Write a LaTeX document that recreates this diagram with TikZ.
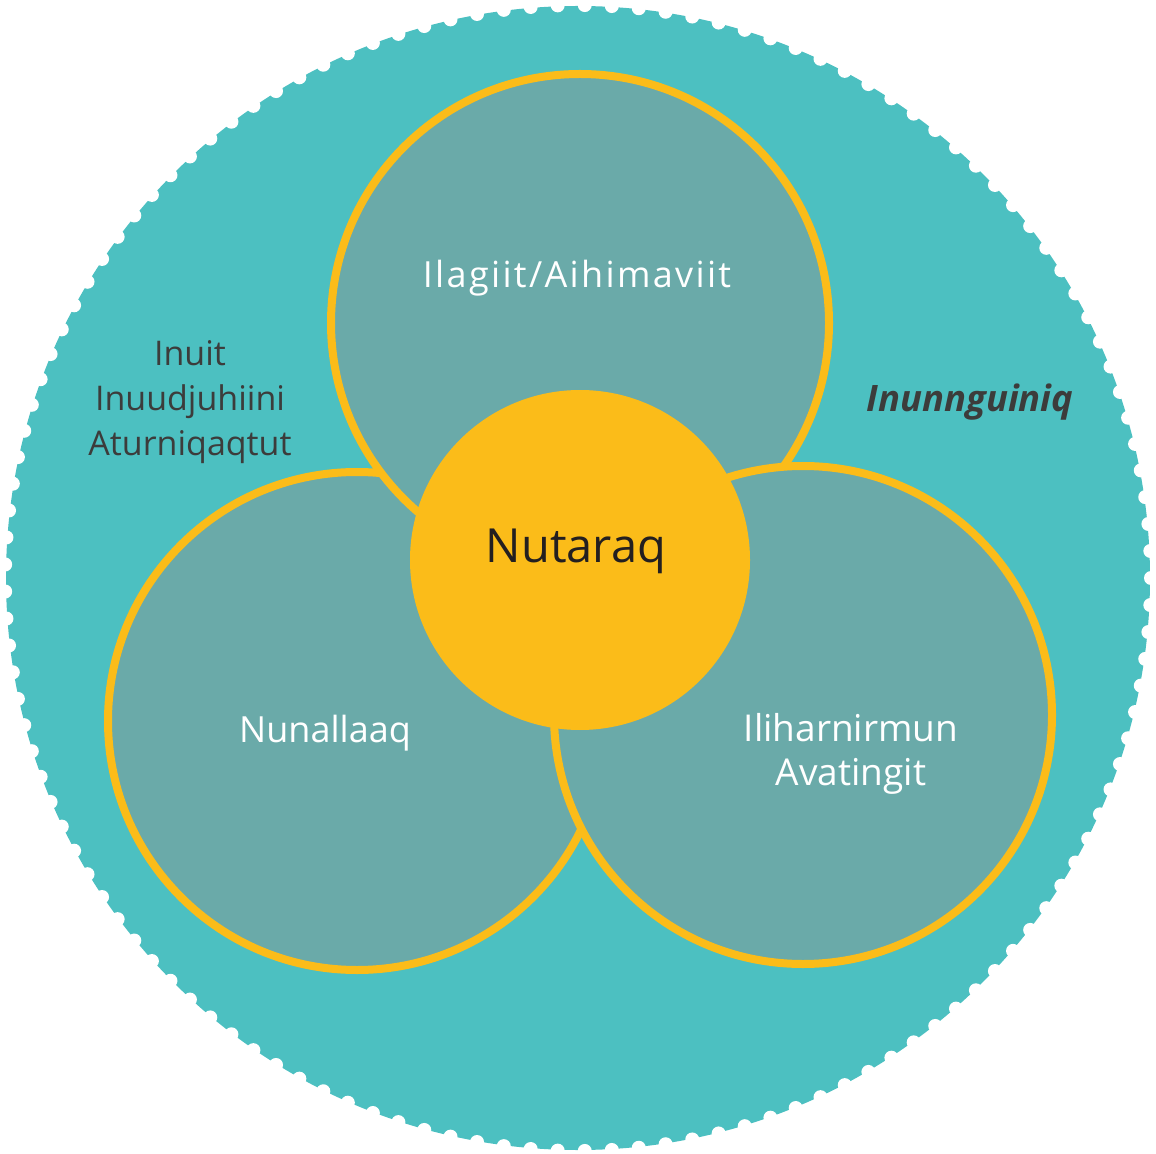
\documentclass[tikz,border=0pt]{standalone}
\usepackage{fontspec}
\setmainfont{Open Sans}
\definecolor{lagoon}{HTML}{4CC0C1}
\definecolor{sage}{HTML}{6AAAA9}
\definecolor{sun}{HTML}{FBBC19}
\definecolor{ink}{HTML}{3C3C3B}
\definecolor{deepink}{HTML}{231F20}
\tikzset{
  ring/.style={circle, draw=sun, line width=4pt, fill=sage, minimum size=249pt, inner sep=0pt},
  ringlabel/.style={text=white, font=\fontsize{18}{22}\selectfont, align=center, inner sep=0pt},
  outerlabel/.style={text=ink, font=\fontsize{17}{22.5}\selectfont, align=center, inner sep=0pt},
}
\begin{document}
\begin{tikzpicture}[x=0.5pt, y=-0.5pt]
    \useasboundingbox (0,0) rectangle (1156,1154);

    % outer disc with scalloped edge
    \fill[lagoon] (578,578) circle (572);
    \foreach \i in {1,...,133}
        \fill[white, shift={(578,578)}] (\i*2.70677:573) circle (7);

    \node[ring] (nunallaaq) at (357,721) {};
    \node[ring] (ilagiit) at (580,323) {};
    \node[ring] (iliharnirmun) at (803,715) {};
    \node[circle, fill=sun, minimum size=170pt, inner sep=0pt] (nutaraq) at (580,560) {};

    \node[ringlabel, anchor=base, font=\fontsize{18}{22}\selectfont\addfontfeature{LetterSpace=6.5}] (ilagiit-text) at (577,288) {Ilagiit/Aihimaviit};
    \node[ringlabel, anchor=base] (nunallaaq-text) at (325,742) {Nunallaaq};
    \node[ringlabel, font=\fontsize{18.5}{22}\selectfont] (iliharnirmun-text) at (851,754) {Iliharnirmun\\Avatingit};
    \node[anchor=base, text=deepink, font=\fontsize{23.5}{28}\selectfont, inner sep=0pt] (nutaraq-text) at (576,563) {Nutaraq};

    \node[outerlabel] (inuit-text) at (190,402) {Inuit\\Inuudjuhiini\\Aturniqaqtut};
    \node[outerlabel, anchor=base, font=\fontsize{18.2}{22.5}\selectfont\bfseries\itshape] (inunnguiniq-text) at (970,412) {Inunnguiniq};
\end{tikzpicture}
\end{document}
